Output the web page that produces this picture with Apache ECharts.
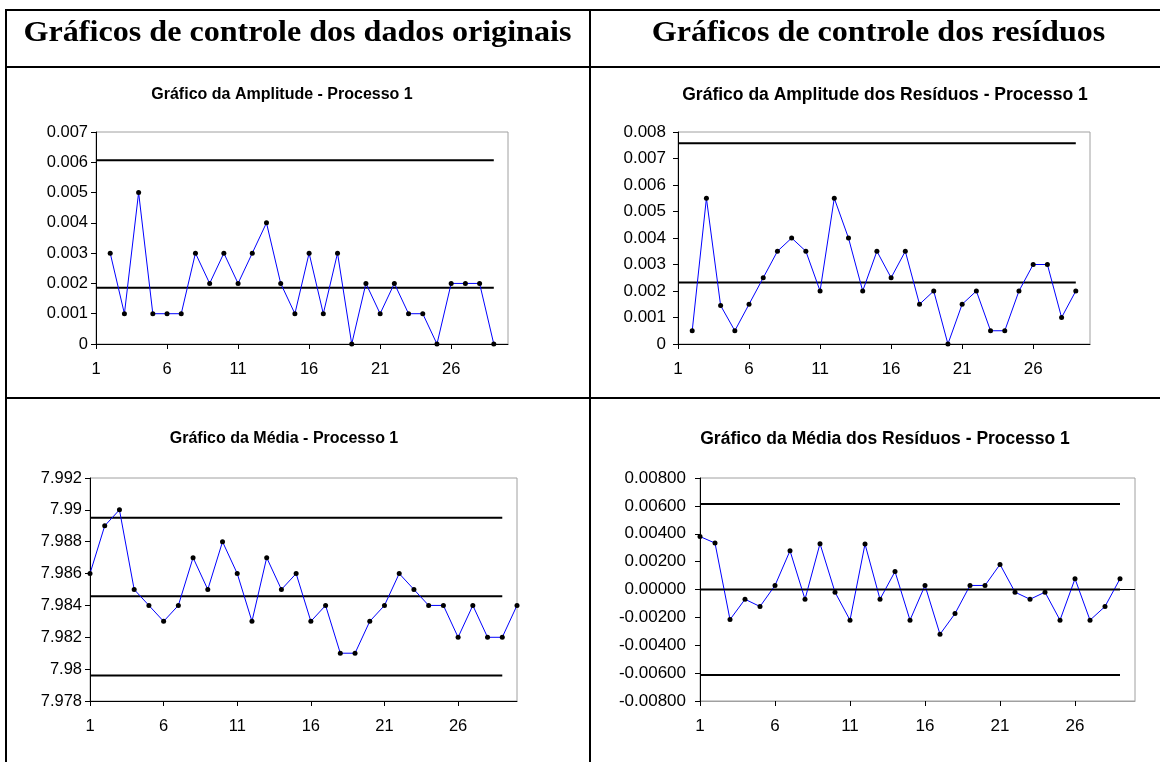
<!DOCTYPE html>
<html>
<head>
<meta charset="utf-8">
<script src="https://cdn.jsdelivr.net/npm/echarts@6/dist/echarts.min.js"></script>
<style>
  html, body { margin: 0; padding: 0; background: #ffffff; }
  #board { width: 1160px; height: 762px; }
</style>
</head>
<body>
<div id="board"></div>
<script>
// Sample numbers on the horizontal axis
const samples = ['1','2','3','4','5','6','7','8','9','10','11','12','13','14','15',
                 '16','17','18','19','20','21','22','23','24','25','26','27','28','29','30'];

// Range of the original data (R chart)
const amplitude = [null, 0.003, 0.001, 0.005, 0.001, 0.001, 0.001, 0.003, 0.002, 0.003,
                   0.002, 0.003, 0.004, 0.002, 0.001, 0.003, 0.001, 0.003, 0, 0.002,
                   0.001, 0.002, 0.001, 0.001, 0, 0.002, 0.002, 0.002, 0, null];
const amplitudeLimits = [0.00607, 0.00186];            // UCL, CL

// Range of the residuals
const residualAmplitude = [null, 0.0005, 0.0055, 0.00145, 0.0005, 0.0015, 0.0025, 0.0035, 0.004, 0.0035,
                           0.002, 0.0055, 0.004, 0.002, 0.0035, 0.0025, 0.0035, 0.0015, 0.002, 0,
                           0.0015, 0.002, 0.0005, 0.0005, 0.002, 0.003, 0.003, 0.001, 0.002, null];
const residualAmplitudeLimits = [0.00758, 0.00232];    // UCL, CL

// Sample means of the original data (X-bar chart)
const mean = [7.986, 7.989, 7.990, 7.985, 7.984, 7.983, 7.984, 7.987, 7.985, 7.988,
              7.986, 7.983, 7.987, 7.985, 7.986, 7.983, 7.984, 7.981, 7.981, 7.983,
              7.984, 7.986, 7.985, 7.984, 7.984, 7.982, 7.984, 7.982, 7.982, 7.984];
const meanLimits = [7.9895, 7.98457, 7.9796];          // UCL, CL, LCL

// Means of the residuals
const residualMean = [0.0038, 0.00333, -0.00216, -0.0007, -0.00122, 0.00029, 0.00278, -0.0007, 0.00329, -0.00019,
                      -0.0022, 0.00326, -0.0007, 0.00129, -0.0022, 0.00029, -0.00321, -0.00173, 0.00029, 0.00029,
                      0.0018, -0.00019, -0.0007, -0.00019, -0.0022, 0.00077, -0.0022, -0.00122, 0.00077, null];
const residualMeanLimits = [0.00614, 0, -0.00614];     // UCL, CL, LCL

// Y axis scales: [min, max, step]
const amplitudeScale = [0, 0.007, 0.001];
const residualAmplitudeScale = [0, 0.008, 0.001];
const meanScale = [7.978, 7.992, 0.002];
const residualMeanScale = [-0.008, 0.008, 0.002];

const chartTitles = [
  'Gráfico da Amplitude - Processo 1',
  'Gráfico da Amplitude dos Resíduos - Processo 1',
  'Gráfico da Média - Processo 1',
  'Gráfico da Média dos Resíduos - Processo 1'
];
const columnHeaders = ['Gráficos de controle dos dados originais', 'Gráficos de controle dos resíduos'];

// Control limits are drawn across samples 1..29
const LIMIT_SPAN = 29;
const limitSeries = v => samples.map((s, i) => (i < LIMIT_SPAN ? v : null));

const SANS = '"Liberation Sans", Arial, sans-serif';
const SERIF = '"Liberation Serif", "Times New Roman", serif';

// Plot areas (pixels) and per-panel text sizes
const grids = [
  { left: 96,  top: 132, width: 412, height: 212, font: 16.5, title: 16,   labelGap: 8 },
  { left: 678, top: 132, width: 412, height: 212, font: 17,   title: 17.5, labelGap: 12 },
  { left: 90,  top: 478, width: 427, height: 223, font: 16.5, title: 16,   labelGap: 8 },
  { left: 700, top: 478, width: 435, height: 223, font: 17,   title: 17.5, labelGap: 14 }
];
const titlePos = [[277, 82], [880, 81], [279, 426], [880, 425]];

const trim3 = v => String(parseFloat(v.toFixed(3)));
const fixed5 = v => (Math.abs(v) < 1e-12 ? '0.00000' : v.toFixed(5));
const formatters = [trim3, trim3, trim3, fixed5];
const scales = [amplitudeScale, residualAmplitudeScale, meanScale, residualMeanScale];

const option = {
  animation: false,
  backgroundColor: '#ffffff',
  title: chartTitles.map((t, i) => ({
    text: t,
    left: titlePos[i][0],
    top: titlePos[i][1],
    textAlign: 'center',
    textStyle: { fontFamily: SANS, fontWeight: 'bold', fontSize: grids[i].title, color: '#000000' }
  })),
  grid: grids.map(g => ({
    left: g.left, top: g.top, width: g.width, height: g.height,
    show: true, borderColor: '#a0a0a0', borderWidth: 1, backgroundColor: 'transparent'
  })),
  xAxis: grids.map((g, i) => ({
    type: 'category',
    gridIndex: i,
    data: samples,
    boundaryGap: false,
    axisLine: { show: true, onZero: false, lineStyle: { color: i === 3 ? '#a0a0a0' : '#000000', width: 1 } },
    axisTick: { show: true, interval: 4, length: 5, lineStyle: { color: '#000000' } },
    axisLabel: { interval: 4, margin: 17, fontFamily: SANS, fontSize: g.font, color: '#000000' },
    splitLine: { show: false }
  })),
  yAxis: grids.map((g, i) => ({
    type: 'value',
    gridIndex: i,
    min: scales[i][0], max: scales[i][1], interval: scales[i][2],
    axisLine: { show: true, lineStyle: { color: '#000000', width: 1 } },
    axisTick: { show: true, length: 5, lineStyle: { color: '#000000' } },
    axisLabel: { margin: g.labelGap, fontFamily: SANS, fontSize: g.font, color: '#000000', formatter: formatters[i] },
    splitLine: { show: false }
  })),
  series: [],
  graphic: []
};

function addChart(idx, values, limits) {
  limits.forEach(v => {
    option.series.push({
      type: 'line', xAxisIndex: idx, yAxisIndex: idx,
      data: limitSeries(v), symbol: 'none', silent: true,
      lineStyle: { color: '#000000', width: 2 }, z: 2
    });
  });
  const s = {
    type: 'line', xAxisIndex: idx, yAxisIndex: idx,
    data: values, connectNulls: false,
    symbol: 'circle', symbolSize: 5,
    lineStyle: { color: '#0000ff', width: 1 },
    itemStyle: { color: '#000000' }, z: 3
  };
  if (idx === 3) {
    // horizontal axis crosses at zero
    s.markLine = {
      silent: true, symbol: 'none', label: { show: false },
      lineStyle: { color: '#000000', width: 1, type: 'solid' },
      data: [{ yAxis: 0 }]
    };
  }
  option.series.push(s);
}
addChart(0, amplitude, amplitudeLimits);
addChart(1, residualAmplitude, residualAmplitudeLimits);
addChart(2, mean, meanLimits);
addChart(3, residualMean, residualMeanLimits);

// Table rules and column headers
const rule = (x1, y1, x2, y2) => ({
  type: 'line', silent: true,
  shape: { x1, y1, x2, y2 },
  style: { stroke: '#000000', lineWidth: 2 }
});
const header = (text, cx) => ({
  type: 'text', x: cx, y: 33, scaleX: 1.07, silent: true,
  style: { text, font: 'bold 30px ' + SERIF, fill: '#000000', textAlign: 'center', textVerticalAlign: 'middle' }
});
option.graphic = [
  rule(5, 10, 1160, 10),
  rule(6, 10, 6, 762),
  rule(6, 67, 1160, 67),
  rule(590, 10, 590, 762),
  rule(6, 398, 1160, 398),
  header(columnHeaders[0], 297.5),
  header(columnHeaders[1], 878.5)
];

const chart = echarts.init(document.getElementById('board'), null, { renderer: 'canvas' });
chart.setOption(option);
</script>
</body>
</html>
